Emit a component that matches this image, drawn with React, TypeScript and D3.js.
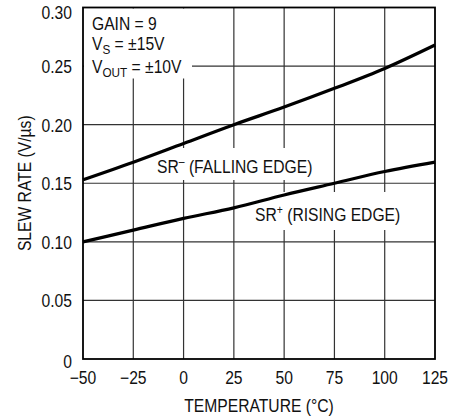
import React from "react";
import * as d3 from "d3";

const temps = [-50, -25, 0, 25, 50, 75, 100, 125];
const srFalling = [0.153, 0.168, 0.184, 0.2, 0.215, 0.231, 0.248, 0.268];
const srRising = [0.1, 0.11, 0.12, 0.129, 0.14, 0.15, 0.16, 0.168];
const xTicks = [-50, -25, 0, 25, 50, 75, 100, 125];
const xTickLabels = ["\u221250", "\u221225", "0", "25", "50", "75", "100", "125"];
const yTicks = [0, 0.05, 0.1, 0.15, 0.2, 0.25, 0.3];
const yTickLabels = ["0", "0.05", "0.10", "0.15", "0.20", "0.25", "0.30"];

const W = 465;
const H = 418;
const L = 83;
const R = 435;
const T = 7.5;
const B = 359;
const FONT = "'Liberation Sans', Arial, sans-serif";
const FS = 18;
const SX = 0.87;

function Txt(props: {
  x: number;
  y: number;
  anchor?: string;
  rotate?: number;
  baseline?: string;
  children: React.ReactNode;
}) {
  const { x, y, anchor, rotate, baseline, children } = props;
  const tr = `translate(${x},${y})${rotate ? ` rotate(${rotate})` : ""} scale(${SX},1)`;
  return (
    <text
      transform={tr}
      textAnchor={anchor || "start"}
      dominantBaseline={baseline}
      fontSize={FS}
      fill="#111"
    >
      {children}
    </text>
  );
}

export default function App() {
  const x = d3.scaleLinear().domain([-50, 125]).range([L, R]);
  const y = d3.scaleLinear().domain([0, 0.3]).range([B, T]);
  const line = d3
    .line<number>()
    .x((_, i) => x(temps[i]))
    .y((d) => y(d))
    .curve(d3.curveMonotoneX);

  return (
    <svg
      width={W}
      height={H}
      style={{ position: "absolute", left: 0, top: 0, background: "#fff" }}
      fontFamily={FONT}
    >
      <rect x={0} y={0} width={W} height={H} fill="#fff" />
      {/* grid */}
      {xTicks.slice(1, -1).map((t) => (
        <line key={"gx" + t} x1={x(t)} x2={x(t)} y1={T} y2={B} stroke="#333" strokeWidth={1.2} />
      ))}
      {yTicks.slice(1, -1).map((t) => (
        <line key={"gy" + t} x1={L} x2={R} y1={y(t)} y2={y(t)} stroke="#333" strokeWidth={1.2} />
      ))}
      {/* white boxes behind annotations */}
      <rect x={L + 1} y={T + 1} width={108} height={70} fill="#fff" />
      <rect x={150} y={148} width={168} height={32} fill="#fff" />
      <rect x={250} y={192} width={156} height={38} fill="#fff" />
      {/* curves */}
      <path d={line(srFalling) || ""} fill="none" stroke="#000" strokeWidth={3.2} />
      <path d={line(srRising) || ""} fill="none" stroke="#000" strokeWidth={3.2} />
      {/* frame */}
      <rect x={L} y={T} width={R - L} height={B - T} fill="none" stroke="#000" strokeWidth={1.8} />
      {/* y tick labels */}
      {yTicks.map((t, i) => (
        <Txt
          key={"yl" + t}
          x={72}
          y={y(t) + (i === 0 ? 3 : i === yTicks.length - 1 ? 6 : 1)}
          anchor="end"
          baseline="central"
        >
          {yTickLabels[i]}
        </Txt>
      ))}
      {/* x tick labels */}
      {xTicks.map((t, i) => (
        <Txt key={"xl" + t} x={x(t)} y={384} anchor="middle">
          {xTickLabels[i]}
        </Txt>
      ))}
      {/* axis titles */}
      <Txt x={(L + R) / 2} y={412} anchor="middle">
        TEMPERATURE (°C)
      </Txt>
      <Txt x={31} y={(T + B) / 2} rotate={-90} anchor="middle">
        SLEW RATE (V/µs)
      </Txt>
      {/* conditions */}
      <Txt x={92} y={30}>GAIN = 9</Txt>
      <Txt x={92} y={50}>
        V<tspan fontSize={13.5} dy={4}>S</tspan>
        <tspan dy={-4}> = ±15V</tspan>
      </Txt>
      <Txt x={92} y={73}>
        V<tspan fontSize={13.5} dy={4}>OUT</tspan>
        <tspan dy={-4}> = ±10V</tspan>
      </Txt>
      {/* curve labels */}
      <Txt x={157} y={173}>
        SR<tspan fontSize={12} dy={-7}>–</tspan>
        <tspan dy={7}> (FALLING EDGE)</tspan>
      </Txt>
      <Txt x={255} y={221}>
        SR<tspan fontSize={12} dy={-7}>+</tspan>
        <tspan dy={7}> (RISING EDGE)</tspan>
      </Txt>
    </svg>
  );
}
